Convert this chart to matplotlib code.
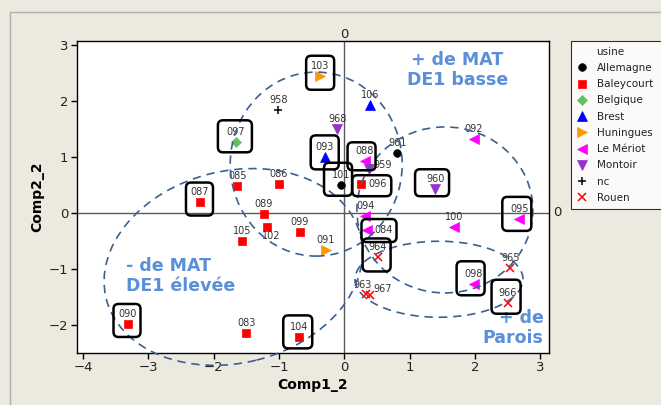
import numpy as np
import matplotlib.pyplot as plt
from matplotlib.lines import Line2D
from matplotlib.patches import Ellipse, FancyBboxPatch, Rectangle
from matplotlib.transforms import IdentityTransform

# Données
labels = ['101', '961',
          '085', '086', '087', '089', '102', '105', '099', '090', '083', '104', '096',
          '097',
          '093', '106',
          '103', '091',
          '092', '088', '095', '094', '084', '100', '098',
          '968', '959', '960',
          '958',
          '964', '965', '963', '967', '966']
comp1 = [-0.05, 0.81,
         -1.64, -1.00, -2.21, -1.23, -1.19, -1.56, -0.68, -3.32, -1.50, -0.69, 0.26,
         -1.66,
         -0.30, 0.39,
         -0.37, -0.28,
         1.98, 0.31, 2.68, 0.32, 0.34, 1.68, 1.98,
         -0.11, 0.38, 1.39,
         -1.01,
         0.51, 2.54, 0.33, 0.39, 2.50]
comp2 = [0.50, 1.06,
         0.48, 0.51, 0.20, -0.02, -0.25, -0.51, -0.34, -1.99, -2.15, -2.23, 0.51,
         1.26,
         0.99, 1.92,
         2.45, -0.67,
         1.31, 0.92, -0.11, -0.06, -0.31, -0.26, -1.28,
         1.50, 0.79, 0.42,
         1.84,
         -0.80, -0.98, -1.46, -1.48, -1.61]
usine = ['Allemagne'] * 2 + ['Baleycourt'] * 11 + ['Belgique'] + ['Brest'] * 2 + \
        ['Huningues'] * 2 + ['Le Mériot'] * 7 + ['Montoir'] * 3 + ['nc'] + ['Rouen'] * 5

groups = ['Allemagne', 'Baleycourt', 'Belgique', 'Brest', 'Huningues',
          'Le Mériot', 'Montoir', 'nc', 'Rouen']
marqueurs = {'Allemagne': ('o', 'black', 5.5),
             'Baleycourt': ('s', '#ff0000', 5.5),
             'Belgique': ('D', '#5fc45f', 5),
             'Brest': ('^', '#0000ff', 6.5),
             'Huningues': ('>', '#ff9900', 6.5),
             'Le Mériot': ('<', '#ff00ff', 6.5),
             'Montoir': ('v', '#9535c8', 6.5),
             'nc': ('+', 'black', 6),
             'Rouen': ('x', '#ff0000', 5.5)}

# Décalages des étiquettes (pixels) quand elles ne sont pas au-dessus
decal = {'096': (16, 0), '084': (17, 0), '959': (14, 4), '102': (5, -9),
         '967': (13, 6), '963': (-3, 9)}

# Cadres arrondis autour de certains points (pixels: gauche, droite, haut, bas)
cadres = {'103': (-14, 14, -20, 14), '097': (-18, 16, -22, 10),
          '093': (-14, 14, -22, 12), '087': (-14, 13, -19, 14),
          '101': (-17, 11, -22, 11), '088': (-17, 11, -19, 9),
          '096': (-9, 30, -9, 12), '960': (-20, 14, -20, 7),
          '095': (-17, 12, -22, 12), '084': (-5, 30, -11, 12),
          '964': (-15, 13, -19, 14), '098': (-17, 11, -23, 11),
          '966': (-16, 13, -23, 11), '090': (-14, 13, -20, 13),
          '104': (-16, 13, -22, 11)}

# Ellipses en pointillés (centre en données, demi-axes en pixels, angle)
ellipses = [(-0.43, 0.87, 86, 92, 0),
            (-1.70, -0.97, 131, 96, 14),
            (1.54, 0.05, 88, 83, 0),
            (1.45, -1.19, 84, 38, 0)]

fond = '#ece9df'
fig = plt.figure(figsize=(6.61, 4.05), dpi=100, facecolor=fond)
ax = fig.add_axes([76.7 / 661, 1 - 352.7 / 405, 472 / 661, 311.7 / 405])
ax.set_xlim(-4.098, 3.130)
ax.set_ylim(-2.504, 3.072)

# cadre gris autour de la zone graphique
fig.add_artist(Rectangle((10 / 661, -0.1), 1.2, 1 - 12 / 405 + 0.1,
                         transform=fig.transFigure, fill=False,
                         ec='#b0b0b0', lw=1))

# lignes de référence
ax.axvline(0, color='#5a5a5a', lw=1, zorder=1)
ax.axhline(0, color='#5a5a5a', lw=1, zorder=1)

comp1 = np.array(comp1)
comp2 = np.array(comp2)
usine = np.array(usine)

handles = [Line2D([], [], ls='none', marker='none', label='usine')]
for g in groups:
    m, c, s = marqueurs[g]
    sel = usine == g
    h, = ax.plot(comp1[sel], comp2[sel], ls='none', marker=m, color=c, ms=s,
                 mew=1.1 if m in '+x' else 0.5, label=g, zorder=3)
    handles.append(h)

for lab, x, y in zip(labels, comp1, comp2):
    dx, dy = decal.get(lab, (0, 10))
    ax.annotate(lab, (x, y), xytext=(dx, dy), textcoords='offset pixels',
                ha='center', va='center', fontsize=7, color='#333333', zorder=4)

# ellipses et cadres en coordonnées pixels
for cx, cy, a, b, ang in ellipses:
    px, py = ax.transData.transform((cx, cy))
    ax.add_patch(Ellipse((px, py), 2 * a, 2 * b, angle=ang, fill=False,
                         ec='#3b6090', lw=1.2, ls=(0, (5, 3.5)),
                         transform=IdentityTransform(), clip_on=False, zorder=5))

for lab, (x0, x1, y0, y1) in cadres.items():
    i = labels.index(lab)
    px, py = ax.transData.transform((comp1[i], comp2[i]))
    ax.add_patch(FancyBboxPatch((px + x0, py - y1), x1 - x0, y1 - y0,
                                boxstyle='round,pad=0,rounding_size=5',
                                fill=False, ec='black', lw=1.8,
                                transform=IdentityTransform(), clip_on=False,
                                zorder=6))

# textes d'annotation
bleu = '#5b8fd8'
ax.text(1.73, 2.55, '+ de MAT\nDE1 basse', color=bleu, fontsize=12.5,
        fontweight='bold', ha='center', va='center', linespacing=1.1)
ax.text(-3.35, -1.13, '- de MAT\nDE1 élevée', color=bleu, fontsize=12.5,
        fontweight='bold', ha='left', va='center', linespacing=1.1)
ax.text(3.05, -2.06, '+ de\nParois', color=bleu, fontsize=12.5,
        fontweight='bold', ha='right', va='center', linespacing=1.1)

# étiquettes des lignes de référence
ax.text(0, 3.072, '0', transform=ax.transData, ha='center', va='bottom',
        fontsize=9.5, color='#222222')
ax.annotate('0', (3.130, 0), xytext=(4, 0), textcoords='offset pixels',
            ha='left', va='center', fontsize=9.5, color='#222222',
            annotation_clip=False)

ax.set_xticks([-4, -3, -2, -1, 0, 1, 2, 3])
ax.set_yticks([-2, -1, 0, 1, 2, 3])
ax.tick_params(direction='out', length=4, width=1, labelsize=9.5,
               labelcolor='#222222', pad=2)
ax.set_xlabel('Comp1_2', fontsize=10, fontweight='bold', labelpad=3)
ax.set_ylabel('Comp2_2', fontsize=10, fontweight='bold', labelpad=3)
for sp in ax.spines.values():
    sp.set_linewidth(1)

leg = ax.legend(handles=handles, loc='upper left', mode='expand',
                bbox_to_anchor=(571 / 661, 0, 0.3, 1 - 41 / 405),
                bbox_transform=fig.transFigure, borderaxespad=0,
                fontsize=7.5, frameon=True, fancybox=False, edgecolor='black',
                handlelength=1.0, handletextpad=0.9, labelspacing=0.6,
                borderpad=0.55, markerscale=1.0)
leg.get_frame().set_linewidth(0.8)
for t in leg.get_texts():
    t.set_color('#222222')

plt.savefig('out.png', dpi=100, facecolor=fond)
